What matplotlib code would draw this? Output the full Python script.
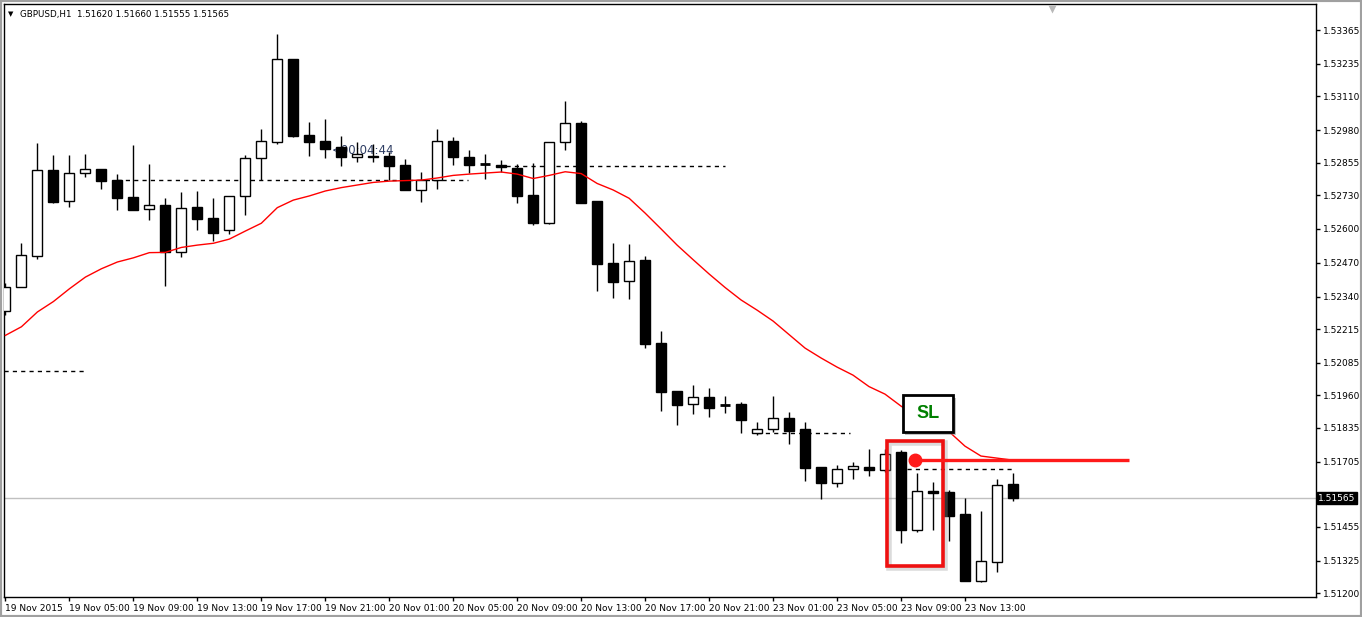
import numpy as np
import matplotlib.pyplot as plt
from matplotlib.patches import Rectangle
import matplotlib.patheffects as pe

# GBPUSD H1, 19-23 Nov 2015 (prices)
opens = [1.52284, 1.52377, 1.52497, 1.52826, 1.52706, 1.52814, 1.52829, 1.52787, 1.52722, 1.52676,
         1.52691, 1.52510, 1.52683, 1.52641, 1.52595, 1.52726, 1.52872, 1.52933, 1.53254, 1.52961,
         1.52938, 1.52915, 1.52876, 1.52880, 1.52880, 1.52846, 1.52749, 1.52787, 1.52938, 1.52877,
         1.52850, 1.52846, 1.52834, 1.52731, 1.52622, 1.52935, 1.53007, 1.52707, 1.52469, 1.52399,
         1.52481, 1.52161, 1.51977, 1.51926, 1.51954, 1.51926, 1.51927, 1.51814, 1.51830, 1.51873,
         1.51831, 1.51685, 1.51624, 1.51676, 1.51685, 1.51674, 1.51743, 1.51443, 1.51592, 1.51587,
         1.51504, 1.51247, 1.51320, 1.51620]
highs = [1.52392, 1.52546, 1.52929, 1.52884, 1.52884, 1.52888, 1.52830, 1.52811, 1.52923, 1.52850,
         1.52718, 1.52741, 1.52746, 1.52718, 1.52727, 1.52884, 1.52984, 1.53350, 1.53254, 1.53010,
         1.53023, 1.52957, 1.52933, 1.52925, 1.52897, 1.52869, 1.52820, 1.52983, 1.52955, 1.52904,
         1.52887, 1.52865, 1.52850, 1.52855, 1.52936, 1.53092, 1.53014, 1.52707, 1.52546, 1.52542,
         1.52496, 1.52208, 1.51977, 1.52000, 1.51988, 1.51958, 1.51935, 1.51856, 1.51958, 1.51896,
         1.51856, 1.51685, 1.51692, 1.51704, 1.51754, 1.51754, 1.51750, 1.51661, 1.51627, 1.51596,
         1.51564, 1.51515, 1.51638, 1.51660]
lows = [1.52269, 1.52375, 1.52486, 1.52699, 1.52686, 1.52801, 1.52755, 1.52674, 1.52672, 1.52636,
        1.52379, 1.52491, 1.52595, 1.52555, 1.52579, 1.52655, 1.52788, 1.52925, 1.52955, 1.52882,
        1.52874, 1.52843, 1.52859, 1.52859, 1.52788, 1.52748, 1.52705, 1.52754, 1.52846, 1.52816,
        1.52791, 1.52820, 1.52701, 1.52614, 1.52620, 1.52905, 1.52700, 1.52363, 1.52336, 1.52332,
        1.52143, 1.51901, 1.51846, 1.51890, 1.51878, 1.51891, 1.51814, 1.51808, 1.51818, 1.51772,
        1.51632, 1.51563, 1.51609, 1.51638, 1.51651, 1.51666, 1.51393, 1.51436, 1.51443, 1.51401,
        1.51246, 1.51241, 1.51282, 1.51555]
closes = [1.52377, 1.52500, 1.52826, 1.52705, 1.52814, 1.52829, 1.52786, 1.52720, 1.52674, 1.52691,
          1.52511, 1.52679, 1.52639, 1.52586, 1.52726, 1.52872, 1.52937, 1.53252, 1.52957, 1.52935,
          1.52909, 1.52875, 1.52887, 1.52876, 1.52843, 1.52749, 1.52788, 1.52938, 1.52878, 1.52847,
          1.52850, 1.52840, 1.52728, 1.52622, 1.52934, 1.53007, 1.52701, 1.52466, 1.52397, 1.52477,
          1.52159, 1.51974, 1.51924, 1.51953, 1.51913, 1.51923, 1.51866, 1.51831, 1.51873, 1.51824,
          1.51682, 1.51624, 1.51677, 1.51687, 1.51674, 1.51733, 1.51443, 1.51592, 1.51586, 1.51497,
          1.51247, 1.51322, 1.51614, 1.51565]
ma = [1.52191, 1.52224, 1.52281, 1.52321, 1.52370, 1.52415, 1.52447, 1.52473, 1.52489, 1.52509,
      1.52510, 1.52529, 1.52538, 1.52545, 1.52561, 1.52592, 1.52622, 1.52682, 1.52711, 1.52727,
      1.52746, 1.52759, 1.52769, 1.52779, 1.52784, 1.52786, 1.52788, 1.52796, 1.52806, 1.52811,
      1.52815, 1.52819, 1.52811, 1.52794, 1.52806, 1.52820, 1.52813, 1.52775, 1.52750, 1.52718,
      1.52661, 1.52600, 1.52538, 1.52482, 1.52427, 1.52375, 1.52327, 1.52288, 1.52246, 1.52194,
      1.52142, 1.52104, 1.52069, 1.52038, 1.51994, 1.51965, 1.51919, 1.51881, 1.51850, 1.51821,
      1.51765, 1.51727, 1.51719, 1.51711]

# dashed horizontal levels (bar index start, end, price)
lvl_start = [-0.1, 7.0, 31.3, 47.0, 56.4]
lvl_end = [5.0, 28.9, 45.0, 52.8, 63.0]
lvl_price = [1.52054, 1.52788, 1.52843, 1.51815, 1.51677]

xtick_pos = list(range(0, 64, 4))
xtick_labels = ["19 Nov 2015", "19 Nov 05:00", "19 Nov 09:00", "19 Nov 13:00", "19 Nov 17:00",
                "19 Nov 21:00", "20 Nov 01:00", "20 Nov 05:00", "20 Nov 09:00", "20 Nov 13:00",
                "20 Nov 17:00", "20 Nov 21:00", "23 Nov 01:00", "23 Nov 05:00", "23 Nov 09:00",
                "23 Nov 13:00"]
ytick_vals = [1.53365, 1.53235, 1.53110, 1.52980, 1.52855, 1.52730, 1.52600, 1.52470, 1.52340,
              1.52215, 1.52085, 1.51960, 1.51835, 1.51705, 1.51455, 1.51325, 1.51200]

last_price = 1.51565
sl_price = 1.51713

plt.rcParams['font.family'] = 'DejaVu Sans'
fig = plt.figure(figsize=(13.62, 6.17), dpi=100)
ax = fig.add_axes([4 / 1362, 20 / 617, 1312 / 1362, 593 / 617])
ax.set_xlim(-0.09, 81.95)
ax.set_ylim(1.51185, 1.53465)

bw = 0.62
for i in range(len(opens)):
    o, h, l, c = opens[i], highs[i], lows[i], closes[i]
    top, bot = max(o, c), min(o, c)
    ax.vlines(i, bot, top, color='black', lw=1, zorder=3)
    ax.vlines(i, top, h, color='black', lw=1, zorder=3)
    ax.vlines(i, l, bot, color='black', lw=1, zorder=3)
    if abs(o - c) < 0.00004:
        ax.hlines((o + c) / 2, i - bw / 2, i + bw / 2, color='black', lw=2, zorder=4)
    else:
        face = 'white' if c > o else 'black'
        ax.add_patch(Rectangle((i - bw / 2, bot), bw, top - bot, facecolor=face,
                               edgecolor='black', lw=1, zorder=4))

ax.plot(range(len(ma)), ma, color='#ff0000', lw=1, zorder=5)

for s, e, p in zip(lvl_start, lvl_end, lvl_price):
    ax.hlines(p, s, e, color='black', lw=1, linestyles=(0, (3, 3)), zorder=2)

ax.axhline(last_price, color='#c0c0c0', lw=1, zorder=1)

# candle timer
ax.text(20.4, 1.52900, "<00:04:44", fontsize=8.5, color='#2e3d63', va='center', ha='left', zorder=2)

# annotations
ax.add_patch(Rectangle((55.23, 1.51297), 3.5, 0.00481, facecolor='none', edgecolor='#999999',
                       lw=4, alpha=0.35, zorder=5.5))
ax.add_patch(Rectangle((55.11, 1.51305), 3.5, 0.00481, facecolor='none', edgecolor='#ee1111',
                       lw=2.6, zorder=6))
shadow = [pe.SimplePatchShadow(offset=(2, -2), shadow_rgbFace='#888888', alpha=0.5), pe.Normal()]
ax.add_patch(Rectangle((56.1, 1.51818), 3.16, 0.00142, facecolor='white', edgecolor='black',
                       lw=2, zorder=6, path_effects=shadow))
ax.text(57.68, 1.51889, "SL", color='#008000', fontsize=13, fontweight='bold',
        family='Liberation Sans', ha='center', va='center', zorder=7)
ax.hlines(sl_price, 56.89, 70.28, color='#ff1a1a', lw=2.4, zorder=6)
ax.plot([56.89], [sl_price], 'o', color='#ff1a1a', ms=9, zorder=7)

# chart shift marker
ax.plot([65.47], [1.53447], marker='v', ms=6, color='#b8b8b8', mec='none', clip_on=False, zorder=8)

ax.set_xticks(xtick_pos)
ax.set_xticklabels(xtick_labels)
for lab in ax.get_xticklabels():
    lab.set_ha('left')
ax.tick_params(axis='x', direction='out', length=3, width=1, pad=2, labelsize=6.5)

ax.yaxis.tick_right()
ax.set_yticks(ytick_vals)
ax.set_yticklabels([f"{v:.5f}" for v in ytick_vals])
ax.tick_params(axis='y', direction='out', length=3, width=1, pad=2, labelsize=6.5)

for sp in ax.spines.values():
    sp.set_linewidth(1)
    sp.set_color('black')

# current price box
ax.text(1.0015, last_price, f"{last_price:.5f}", transform=ax.get_yaxis_transform(),
        fontsize=6.5, color='white', ha='left', va='center', zorder=20,
        bbox=dict(boxstyle='square,pad=0.15', facecolor='black', edgecolor='black'))

# title
fig.text(20 / 1362, 1 - 14 / 617, "GBPUSD,H1  1.51620 1.51660 1.51555 1.51565",
         fontsize=6.3, va='center', ha='left')
fig.text(11 / 1362, 1 - 14 / 617, "\u25BC", fontsize=5, va='center', ha='center')

# window border
fig.add_artist(Rectangle((0, 0), 1, 1, transform=fig.transFigure, facecolor='none',
                         edgecolor='#a0a0a0', lw=3))

fig.savefig('out.png', dpi=100)
